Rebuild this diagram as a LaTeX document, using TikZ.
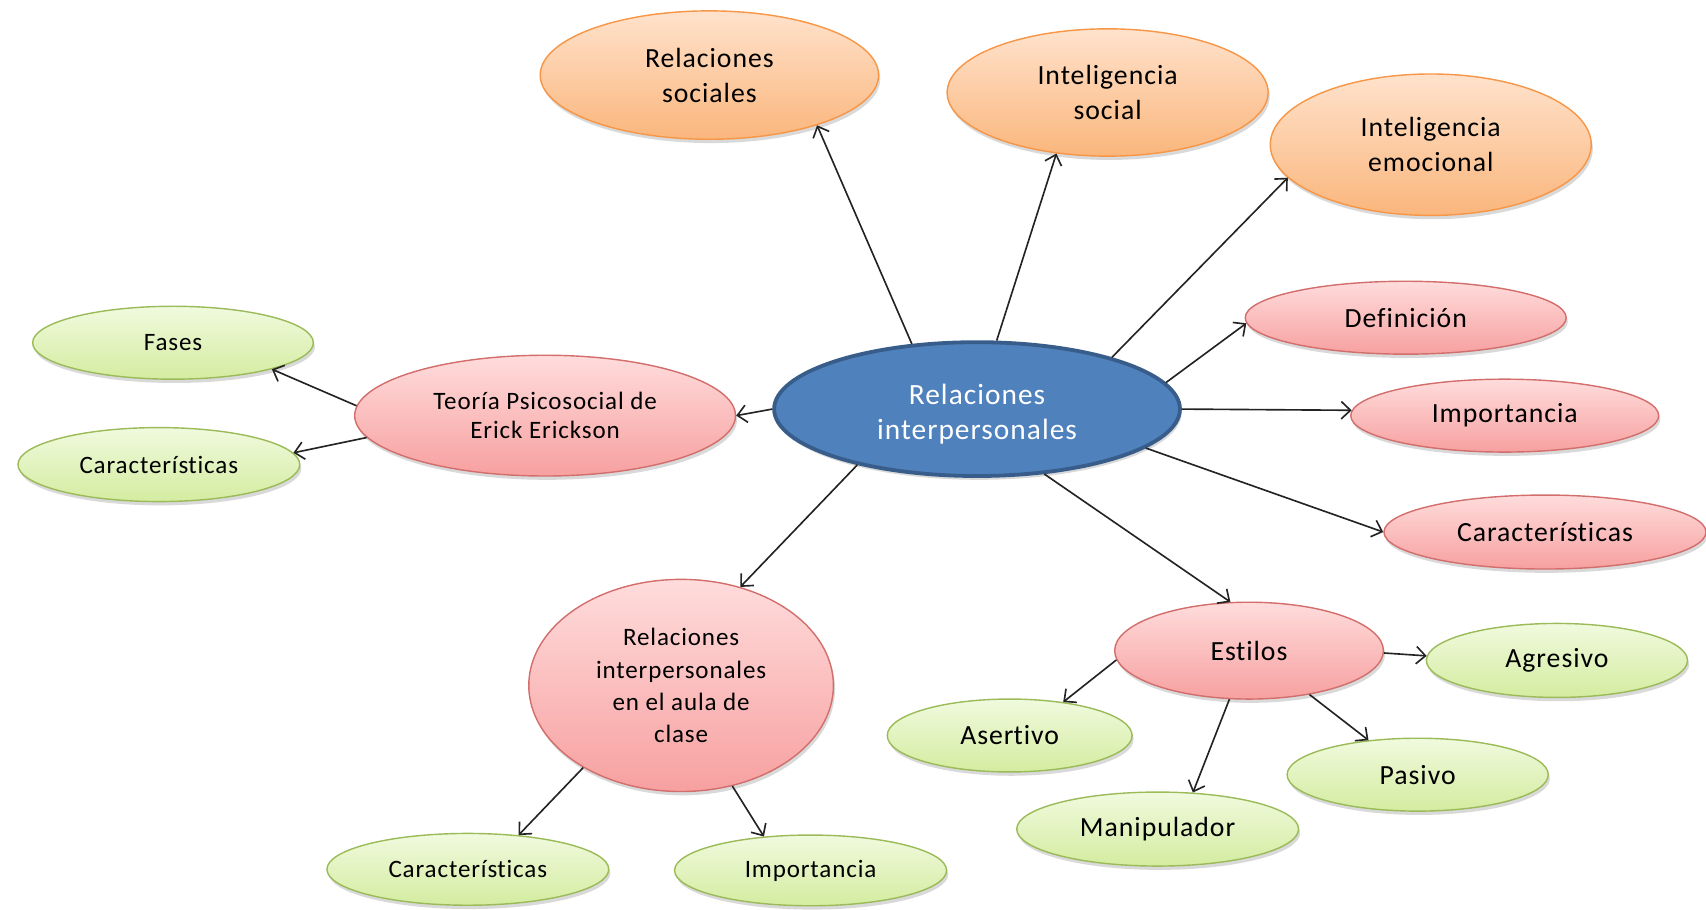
\documentclass[tikz,border=0pt]{standalone}
\usepackage{fontspec}
\setmainfont[LetterSpace=3.5,Ligatures={NoCommon,NoRequired,NoContextual}]{Carlito}
\usetikzlibrary{shapes.geometric,arrows.meta,shadows}
\definecolor{cblue}{RGB}{79,129,189}
\definecolor{cblueb}{RGB}{56,93,138}
\definecolor{orT}{RGB}{255,226,204}
\definecolor{orB}{RGB}{250,182,124}
\definecolor{orD}{RGB}{247,150,70}
\definecolor{pkT}{RGB}{255,220,220}
\definecolor{pkB}{RGB}{247,160,160}
\definecolor{pkD}{RGB}{210,110,108}
\definecolor{grT}{RGB}{240,250,222}
\definecolor{grB}{RGB}{212,236,160}
\definecolor{grD}{RGB}{155,187,89}
\definecolor{arr}{RGB}{35,35,35}
\begin{document}
\begin{tikzpicture}[x=1pt,y=-1pt,
  base/.style={ellipse, inner sep=0pt, align=center, line width=1.3pt,
    drop shadow={shadow xshift=1.5pt, shadow yshift=-3.5pt, opacity=0.25, fill=black!60}},
  centernode/.style={base, fill=cblue, draw=cblueb, line width=3.5pt, text=white,
    font=\fontsize{27}{33}\selectfont},
  orangenode/.style={base, draw=orD, top color=orT, bottom color=orB,
    font=\fontsize{25.5}{32}\selectfont},
  pinknode/.style={base, draw=pkD, top color=pkT, bottom color=pkB,
    font=\fontsize{25.5}{32}\selectfont},
  pinksmall/.style={pinknode, font=\fontsize{23}{27}\selectfont},
  greennode/.style={base, draw=grD, top color=grT, bottom color=grB,
    font=\fontsize{25.5}{32}\selectfont},
  greensmall/.style={greennode, font=\fontsize{23}{27}\selectfont},
  conn/.style={draw=arr, line width=1.5pt, -{Straight Barb[length=8.5pt,width=16pt,line width=1.5pt]}}
]
\useasboundingbox (0,0) rectangle (1568,835.5);

% central
\node[centernode, minimum width=373, minimum height=123] (C) at (898,376)
  {\raisebox{-11.5pt}[0pt][0pt]{\begin{tabular}{@{}c@{}}Relaciones\\interpersonales\end{tabular}}};

% orange
\node[orangenode, minimum width=311, minimum height=118] (RS) at (652,69) {Relaciones\\sociales};
\node[orangenode, minimum width=295, minimum height=117] (IS) at (1018,85) {Inteligencia\\social};
\node[orangenode, minimum width=295, minimum height=130] (IE) at (1315,133) {Inteligencia\\emocional};

% pink right
\node[pinknode, minimum width=295, minimum height=67] (Def) at (1292,292) {Definición};
\node[pinknode, minimum width=283, minimum height=67] (ImpR) at (1383,382) {Importancia};
\node[pinknode, minimum width=296, minimum height=68] (CarR) at (1420,489) {Caracterís\kern0pt ticas};

% left branch
\node[pinksmall, minimum width=350, minimum height=111] (Teo) at (501,382) {Teoría Psicosocial de\\Erick Erickson};
\node[greensmall, minimum width=258, minimum height=67] (Fas) at (159,315) {Fases};
\node[greensmall, minimum width=259, minimum height=68] (CarL) at (146,427) {Caracterís\kern0pt ticas};

% bottom branch
\node[pinksmall, minimum width=280, minimum height=195, font=\fontsize{23}{29.5}\selectfont] (Aula) at (626,630) {Relaciones\\interpersonales\\en el aula de\\clase};
\node[greensmall, minimum width=259, minimum height=66] (CarB) at (430,799) {Caracterís\kern0pt ticas};
\node[greensmall, minimum width=250, minimum height=65] (ImpB) at (745,800) {Importancia};

% estilos
\node[pinknode, minimum width=247, minimum height=89] (Est) at (1148,598) {Es\kern0pt tilos};
\node[greennode, minimum width=240, minimum height=68] (Agr) at (1431,607) {Agresivo};
\node[greennode, minimum width=225, minimum height=67] (Ase) at (928,676) {Aser\kern0pt tivo};
\node[greennode, minimum width=240, minimum height=67] (Pas) at (1303,712) {Pasivo};
\node[greennode, minimum width=259, minimum height=68] (Man) at (1064,762) {Manipulador};

% connectors
\draw[conn] (C.135) -- (RS.-25);
\draw[conn] (C.74) -- (IS.230);
\draw[conn] (C.21) -- (IE.193);
\draw[conn] (C.8.5) -- (Def.182);
\draw[conn] (C.0) -- (ImpR.178);
\draw[conn] (C.-13) -- (CarR.180);
\draw[conn] (C.-44) -- (Est.111);
\draw[conn] (C.205) -- (Aula.59);
\draw[conn] (C.180) -- (Teo.0);
\draw[conn] (Teo.177) -- (Fas.-15);
\draw[conn] (Teo.187) -- (CarL.5);
\draw[conn] (Aula.220) -- (CarB.34.5);
\draw[conn] (Aula.-63) -- (ImpB.144.5);
\draw[conn] (Est.-1) -- (Agr.178.5);
\draw[conn] (Est.184) -- (Ase.32);
\draw[conn] (Est.-36) -- (Pas.145.5);
\draw[conn] (Est.248.6) -- (Man.46);
\end{tikzpicture}
\end{document}
